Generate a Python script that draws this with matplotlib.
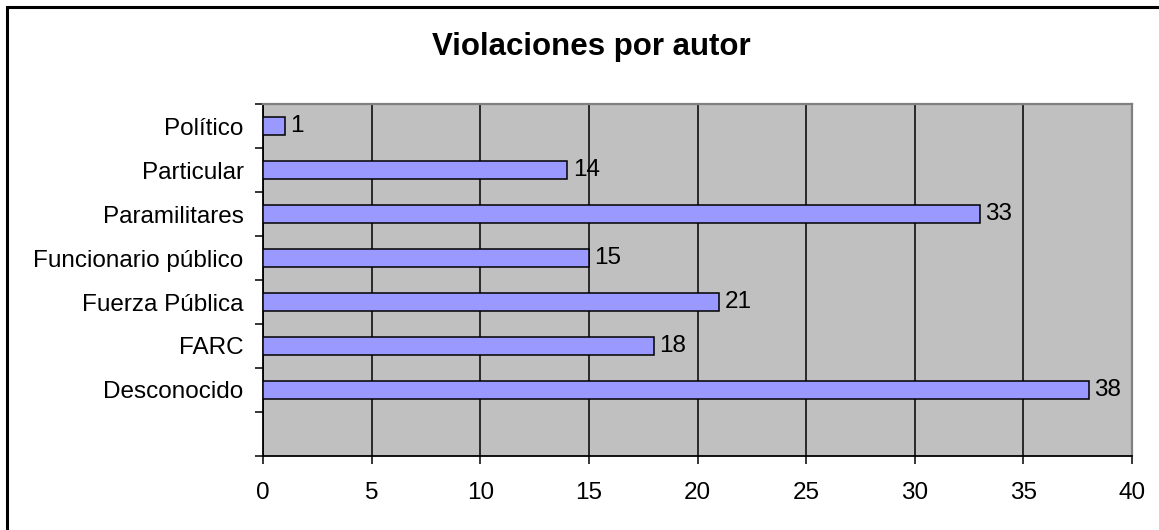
import matplotlib
matplotlib.use("Agg")
import matplotlib.pyplot as plt
from matplotlib.patches import Rectangle
from matplotlib.ticker import FixedLocator, NullFormatter, FixedFormatter

plt.rcParams['font.family'] = ['Liberation Sans', 'DejaVu Sans']

categories = ["Desconocido", "FARC", "Fuerza Pública", "Funcionario público",
              "Paramilitares", "Particular", "Político"]
values = [38, 18, 21, 15, 33, 14, 1]
x_ticks = [0, 5, 10, 15, 20, 25, 30, 35, 40]
title = "Violaciones por autor"

W, H = 1159, 530
fig = plt.figure(figsize=(W / 100, H / 100), dpi=100)
fig.patch.set_facecolor("white")

# outer chart frame
fig.patches.append(Rectangle((7 / W, -0.1), 1.2, 1 - 7 / H + 0.1, transform=fig.transFigure,
                             fill=False, edgecolor="black", linewidth=2.2))

ax = fig.add_axes([263 / W, 1 - 456 / H, (1132 - 263) / W, (456 - 104) / H])
ax.set_facecolor("#C0C0C0")

pos = list(range(1, len(categories) + 1))
ax.barh(pos, values, height=0.39, color="#9999FF", edgecolor="black", linewidth=1.1, zorder=3)

for p, v in zip(pos, values):
    ax.annotate(str(v), xy=(v, p), xytext=(4, 0), textcoords="offset points",
                ha="left", va="center", fontsize=17.5, color="black", zorder=4)

ax.set_xlim(0, 40)
ax.set_ylim(-0.5, len(categories) + 0.5)
ax.set_xticks(x_ticks)
ax.set_xticklabels([str(t) for t in x_ticks], fontsize=17.5)
ax.xaxis.grid(True, color="black", linewidth=1.1, zorder=1)
ax.set_axisbelow(True)

ax.yaxis.set_major_locator(FixedLocator([i - 0.5 for i in range(0, len(categories) + 2)]))
ax.yaxis.set_major_formatter(NullFormatter())
ax.yaxis.set_minor_locator(FixedLocator(pos))
ax.yaxis.set_minor_formatter(FixedFormatter(categories))
ax.tick_params(axis="y", which="major", length=6, width=1.1, direction="out", color="black")
ax.tick_params(axis="y", which="minor", length=0, pad=14, labelsize=17.5)
ax.tick_params(axis="x", which="major", length=6, width=1.1, direction="out", pad=13, labelsize=17.5)

for s in ["left", "bottom"]:
    ax.spines[s].set_color("black")
    ax.spines[s].set_linewidth(1.3)
for s in ["top", "right"]:
    ax.spines[s].set_color("#808080")
    ax.spines[s].set_linewidth(1.6)

fig.text(591.5 / W, 1 - 47 / H, title, ha="center", va="center",
         fontsize=22.5, fontweight="bold", color="black")

fig.savefig("out.png", dpi=100)
